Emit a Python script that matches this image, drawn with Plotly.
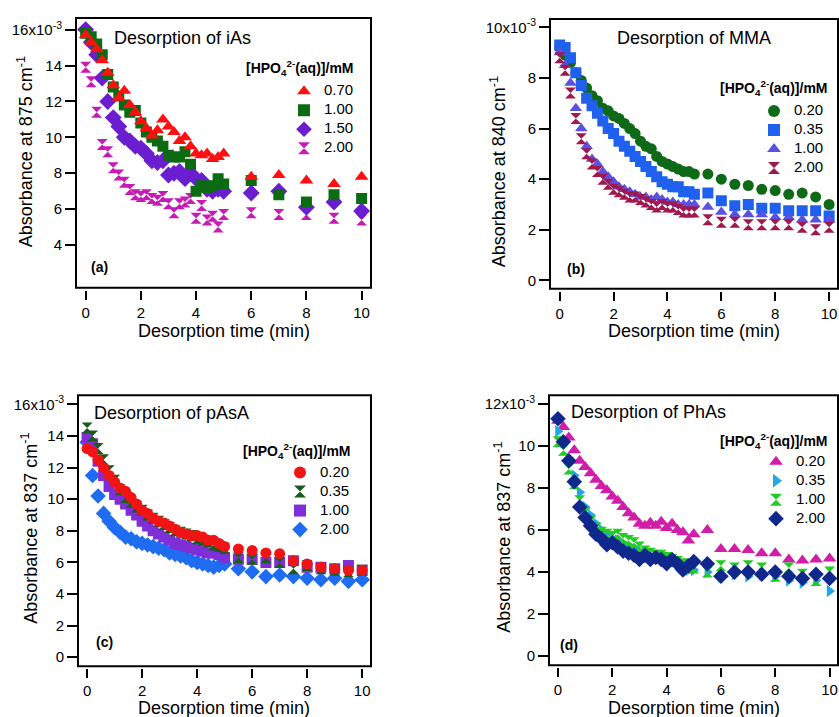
import plotly.graph_objects as go

W, H = 839, 717

# ---------------- DATA (absorbance in units of 1e-3) ----------------
t_dense = [0.0, 0.2, 0.4, 0.6, 0.8, 1.0, 1.2, 1.4, 1.6, 1.8, 2.0, 2.2, 2.4,
           2.6, 2.8, 3.0, 3.2, 3.4, 3.6, 3.8, 4.0, 4.2, 4.4, 4.6, 4.8, 5.0]
t_tail_a = [6.0, 7.0, 8.0, 9.0, 10.0]
t_tail = [5.5, 6.0, 6.5, 7.0, 7.5, 8.0, 8.5, 9.0, 9.5, 10.0]

# (a) iAs
a_labels = ["0.70", "1.00", "1.50", "2.00"]
a_070 = [15.7, 15.3, 14.9, 14.3, 13.6, 12.9, 12.2, 12.6, 11.8, 11.4, 10.9, 10.5, 10.1,
         10.4, 11.0, 10.6, 10.3, 9.8, 10.0, 9.5, 9.1, 9.0, 9.1, 8.8, 8.9, 9.1,
         7.8, 7.9, 7.6, 7.4, 7.8]
a_100 = [15.8, 15.6, 15.2, 14.6, 13.5, 12.8, 12.3, 11.8, 11.4, 11.5, 10.8, 10.3, 10.0,
         9.8, 9.5, 9.0, 8.9, 8.9, 9.2, 8.5, 7.0, 7.3, 7.2, 7.3, 7.7, 7.4,
         7.6, 6.8, 6.4, 6.8, 6.6]
a_150 = [16.0, 15.3, 14.6, 13.3, 12.0, 11.1, 10.6, 10.0, 9.8, 9.5, 9.4, 9.1, 8.7,
         8.6, 8.7, 7.9, 8.0, 8.1, 7.7, 8.0, 7.7, 7.6, 7.1, 7.0, 7.1, 7.0,
         6.9, 7.0, 6.1, 6.4, 5.9]
a_200 = [13.9, 13.1, 11.4, 9.6, 9.2, 8.3, 7.9, 7.5, 7.1, 6.8, 6.7, 6.8, 6.6,
         6.5, 6.7, 6.3, 5.8, 6.3, 6.4, 6.6, 5.5, 6.2, 5.4, 5.6, 5.0, 5.7,
         5.8, 5.7, 5.7, 5.5, 5.4]

# (b) MMA
b_labels = ["0.20", "0.35", "1.00", "2.00"]
b_020 = [9.2, 8.9, 8.6, 8.2, 7.9, 7.6, 7.3, 7.1, 6.8, 6.7, 6.5, 6.4, 6.2,
         6.0, 5.8, 5.5, 5.3, 5.2, 4.9, 4.7, 4.6, 4.5, 4.4, 4.3, 4.3, 4.2,
         4.2, 4.0, 3.8, 3.75, 3.6, 3.55, 3.4, 3.45, 3.3, 3.0]
b_035 = [9.3, 9.2, 8.8, 8.2, 7.7, 7.2, 6.9, 6.6, 6.3, 6.0, 5.8, 5.5, 5.3,
         5.1, 4.9, 4.7, 4.5, 4.3, 4.1, 3.9, 3.8, 3.7, 3.7, 3.5, 3.5, 3.4,
         3.45, 3.15, 2.95, 3.0, 2.85, 2.85, 2.75, 2.75, 2.75, 2.55]
b_100 = [9.0, 8.5, 7.8, 6.8, 6.0, 5.3, 4.8, 4.6, 4.3, 4.1, 3.9, 3.7, 3.6,
         3.5, 3.4, 3.3, 3.3, 3.2, 3.3, 3.2, 3.1, 3.1, 3.0, 3.0, 3.0, 3.0,
         2.9, 2.7, 2.6, 2.6, 2.6, 2.5, 2.5, 2.4, 2.4, 2.4]
b_200 = [8.8, 8.3, 7.4, 6.4, 5.6, 5.0, 4.6, 4.3, 4.0, 3.8, 3.6, 3.5, 3.4,
         3.3, 3.3, 3.2, 3.1, 3.0, 2.9, 3.0, 2.9, 2.9, 2.8, 2.7, 2.7, 2.7,
         2.4, 2.3, 2.3, 2.2, 2.2, 2.2, 2.2, 2.1, 2.0, 2.1]

# (c) pAsA
c_labels = ["0.20", "0.35", "1.00", "2.00"]
c_020 = [13.2, 13.0, 12.5, 12.0, 11.5, 11.1, 10.7, 10.5, 10.1, 9.7, 9.3, 9.1, 8.8,
         8.6, 8.5, 8.3, 8.1, 7.9, 7.8, 7.7, 7.7, 7.6, 7.4, 7.4, 7.2, 7.0,
         6.85, 6.75, 6.6, 6.55, 6.1, 5.9, 5.7, 5.6, 5.5, 5.5]
c_035 = [14.5, 14.0, 13.2, 12.5, 11.8, 11.2, 10.6, 10.1, 9.8, 9.5, 9.3, 9.0, 8.8,
         8.6, 8.4, 8.2, 8.0, 7.9, 7.8, 7.7, 7.5, 7.4, 7.3, 7.1, 7.0, 6.9,
         6.3, 6.2, 6.3, 6.0, 5.6, 5.8, 5.6, 5.5, 5.4, 5.5]
c_100 = [13.9, 13.5, 12.4, 11.5, 10.8, 10.3, 10.0, 9.7, 9.3, 9.0, 8.6, 8.3, 8.0,
         7.8, 7.6, 7.4, 7.2, 7.1, 7.0, 6.9, 6.8, 6.7, 6.6, 6.6, 6.5, 6.3,
         6.2, 6.2, 6.0, 6.0, 6.1, 5.7, 5.7, 5.6, 5.8, 5.5]
c_200 = [13.6, 11.5, 10.2, 9.1, 8.6, 8.2, 7.9, 7.6, 7.5, 7.3, 7.2, 7.1, 7.0,
         6.9, 6.8, 6.6, 6.5, 6.4, 6.3, 6.1, 6.0, 5.9, 5.8, 5.7, 5.8, 5.9,
         5.6, 5.4, 5.1, 5.2, 5.1, 5.0, 4.9, 5.0, 4.8, 4.9]

# (d) PhAs
d_labels = ["0.20", "0.35", "1.00", "2.00"]
d_020 = [11.2, 10.9, 10.4, 9.8, 9.3, 9.0, 8.7, 8.4, 8.1, 7.9, 7.6, 7.4, 7.1,
         6.8, 6.6, 6.3, 6.2, 6.35, 6.2, 6.4, 6.1, 6.3, 6.0, 5.9, 5.5, 5.8,
         6.0, 5.1, 5.1, 5.05, 4.9, 4.9, 4.6, 4.55, 4.6, 4.65]
d_035 = [10.7, 10.2, 9.4, 8.6, 7.8, 7.1, 6.7, 6.3, 6.0, 5.8, 5.6, 5.5, 5.3,
         5.2, 5.1, 5.0, 4.9, 4.8, 4.7, 4.7, 4.6, 4.5, 4.4, 4.3, 4.1, 4.1,
         4.0, 3.8, 3.9, 3.8, 3.9, 3.8, 3.6, 3.5, 3.6, 3.1]
d_100 = [10.2, 9.8, 8.9, 8.2, 7.4, 6.8, 6.4, 6.1, 5.9, 5.8, 5.7, 5.8, 5.6,
         5.5, 5.4, 5.2, 5.0, 4.9, 4.8, 4.8, 4.7, 4.6, 4.5, 4.4, 4.2, 4.2,
         4.0, 4.3, 4.2, 4.3, 4.2, 3.8, 4.2, 3.9, 3.6, 4.0]
d_200 = [11.3, 10.2, 9.3, 8.3, 7.1, 6.6, 6.2, 5.8, 5.6, 5.3, 5.4, 5.2, 5.0,
         4.9, 4.8, 4.6, 4.8, 4.6, 4.7, 4.6, 4.4, 4.6, 4.4, 4.1, 4.3, 4.5,
         4.4, 3.8, 4.0, 4.0, 3.9, 4.0, 3.8, 3.7, 3.9, 3.7]

y_ticks_a = [4, 6, 8, 10, 12, 14, 16]
y_ticktext_a = ["4", "6", "8", "10", "12", "14", "16x10<sup>-3</sup>"]
y_ticks_b = [0, 2, 4, 6, 8, 10]
y_ticktext_b = ["0", "2", "4", "6", "8", "10x10<sup>-3</sup>"]
y_ticks_c = [0, 2, 4, 6, 8, 10, 12, 14, 16]
y_ticktext_c = ["0", "2", "4", "6", "8", "10", "12", "14", "16x10<sup>-3</sup>"]
y_ticks_d = [0, 2, 4, 6, 8, 10, 12]
y_ticktext_d = ["0", "2", "4", "6", "8", "10", "12x10<sup>-3</sup>"]
x_ticks = [0, 2, 4, 6, 8, 10]

# ---------------- LAYOUT HELPERS ----------------
FONT = "Liberation Sans, Arial, sans-serif"

def px(x):
    return x / W

def py(y):
    return 1 - y / H

panels = {
    # name: (left, top, right, bottom) in pixels, xrange, yrange
    "a": ((76, 15, 371, 286), [-0.35, 10.34], [1.62, 16.65]),
    "b": ((550, 16, 838, 287), [-0.36, 10.33], [-0.33, 10.33]),
    "c": ((78, 394, 371, 666), [-0.33, 10.32], [-0.57, 16.57]),
    "d": ((549, 394, 838, 665), [-0.33, 10.31], [-0.43, 12.41]),
}
axis_ids = {"a": "", "b": "2", "c": "3", "d": "4"}
yticks = {"a": (y_ticks_a, y_ticktext_a), "b": (y_ticks_b, y_ticktext_b),
          "c": (y_ticks_c, y_ticktext_c), "d": (y_ticks_d, y_ticktext_d)}

fig = go.Figure()

def add_series(panel, legend, x, y, name, symbol, color, size=11):
    i = axis_ids[panel]
    fig.add_trace(go.Scatter(
        x=x, y=y, mode="markers",
        name='<span style="font-size:15px">%s</span>' % name,
        xaxis="x" + i, yaxis="y" + i, legend=legend,
        marker=dict(symbol=symbol, color=color, size=size, line=dict(width=0)),
    ))

ta = t_dense + t_tail_a
tb = t_dense + t_tail

# panel (a): drawn from highest to lowest concentration (legend reversed back)
add_series("a", "legend", ta, a_200, a_labels[3], "hourglass", "#c81ab4", 11)
add_series("a", "legend", ta, a_150, a_labels[2], "diamond", "#6a1ecf", 13)
add_series("a", "legend", ta, a_100, a_labels[1], "square", "#0b6b12", 11)
add_series("a", "legend", ta, a_070, a_labels[0], "triangle-up", "#ff1010", 12)

add_series("b", "legend2", tb, b_020, b_labels[0], "circle", "#0f6a18", 11)
add_series("b", "legend2", tb, b_035, b_labels[1], "square", "#1f60ee", 11)
add_series("b", "legend2", tb, b_100, b_labels[2], "triangle-up", "#5a50e2", 11)
add_series("b", "legend2", tb, b_200, b_labels[3], "hourglass", "#a0184e", 11)

add_series("c", "legend3", tb, c_200, c_labels[3], "diamond", "#1e6cf2", 12)
add_series("c", "legend3", tb, c_100, c_labels[2], "square", "#7e2fd8", 11)
add_series("c", "legend3", tb, c_035, c_labels[1], "hourglass", "#1a5c1a", 11)
add_series("c", "legend3", tb, c_020, c_labels[0], "circle", "#f01414", 11)

add_series("d", "legend4", tb, d_020, d_labels[0], "triangle-up", "#d01ea8", 12)
add_series("d", "legend4", tb, d_035, d_labels[1], "triangle-right", "#22a8e8", 11)
add_series("d", "legend4", tb, d_100, d_labels[2], "hourglass", "#22cc22", 11)
add_series("d", "legend4", tb, d_200, d_labels[3], "diamond", "#10288c", 12)

layout = dict(
    width=W, height=H,
    margin=dict(l=0, r=0, t=0, b=0),
    paper_bgcolor="white", plot_bgcolor="white",
    font=dict(family=FONT, color="black", size=15),
    showlegend=True,
)

shapes = []
for p, ((l, t, r, b), xr, yr) in panels.items():
    i = axis_ids[p]
    tv, tt = yticks[p]
    layout["xaxis" + i] = dict(
        domain=[px(l), px(r)], range=xr, anchor="free",
        position=py(b + 2), showline=False, showgrid=False, zeroline=False,
        ticks="outside", ticklen=9, tickwidth=2, tickcolor="black",
        tickvals=x_ticks, ticktext=[str(v) for v in x_ticks],
        tickfont=dict(size=15, family=FONT),
    )
    layout["yaxis" + i] = dict(
        domain=[py(b), py(t)], range=yr, anchor="x" + i,
        showline=False, showgrid=False, zeroline=False,
        ticks="outside", ticklen=10, tickwidth=2, tickcolor="black",
        tickvals=tv, ticktext=tt, tickfont=dict(size=15, family=FONT),
    )
    shapes.append(dict(type="rect", xref="x" + i + " domain", yref="y" + i + " domain",
                       x0=0, x1=1, y0=0, y1=1, line=dict(color="black", width=2),
                       fillcolor="rgba(0,0,0,0)", layer="above"))
layout["shapes"] = shapes

# legends
leg_common = dict(bgcolor="rgba(0,0,0,0)", borderwidth=0, font=dict(size=11, family=FONT),
                  xanchor="left", yanchor="top", itemsizing="constant", tracegroupgap=0)
layout["legend"] = dict(x=px(284), y=py(74), traceorder="reversed", **leg_common)
layout["legend2"] = dict(x=px(754), y=py(94), traceorder="normal", **leg_common)
layout["legend3"] = dict(x=px(280), y=py(457), traceorder="reversed", **leg_common)
layout["legend4"] = dict(x=px(756), y=py(446), traceorder="normal", **leg_common)

ann = []
def text(x, y, s, size=18, bold=False, xanchor="center", angle=0):
    ann.append(dict(x=px(x), y=py(y), xref="paper", yref="paper",
                    text=("<b>%s</b>" % s) if bold else s,
                    showarrow=False, xanchor=xanchor, yanchor="middle", textangle=angle,
                    font=dict(size=size, family=FONT, color="black")))

# panel titles
text(182, 35, "Desorption of iAs")
text(694, 35, "Desorption of MMA")
text(171, 412, "Desorption of pAsA")
text(648, 411, "Desorption of PhAs")
# panel labels
text(99, 265, "(a)", size=14, bold=True)
text(576, 267, "(b)", size=14, bold=True)
text(104, 642, "(c)", size=14, bold=True)
text(569, 645, "(d)", size=14, bold=True)
# legend titles
lt = "[HPO<sub>4</sub><sup>2-</sup>(aq)]/mM"
text(356, 65, lt, size=14, bold=True, xanchor="right")
text(830, 85, lt, size=14, bold=True, xanchor="right")
text(353, 450, lt, size=14, bold=True, xanchor="right")
text(830, 440, lt, size=14, bold=True, xanchor="right")
# axis titles
xt = "Desorption time (min)"
text(224, 329, xt)
text(694, 329, xt)
text(224, 708, xt)
text(694, 708, xt)
text(25, 150, "Absorbance at 875 cm<sup>-1</sup>", angle=-90)
text(498, 170, "Absorbance at 840 cm<sup>-1</sup>", angle=-90)
text(30, 528, "Absorbance at 837 cm<sup>-1</sup>", angle=-90)
text(503, 537, "Absorbance at 837 cm<sup>-1</sup>", angle=-90)
layout["annotations"] = ann

fig.update_layout(**layout)
fig.write_html("out.html", config={"displayModeBar": False},
               post_script="document.body.style.margin='0px';")
